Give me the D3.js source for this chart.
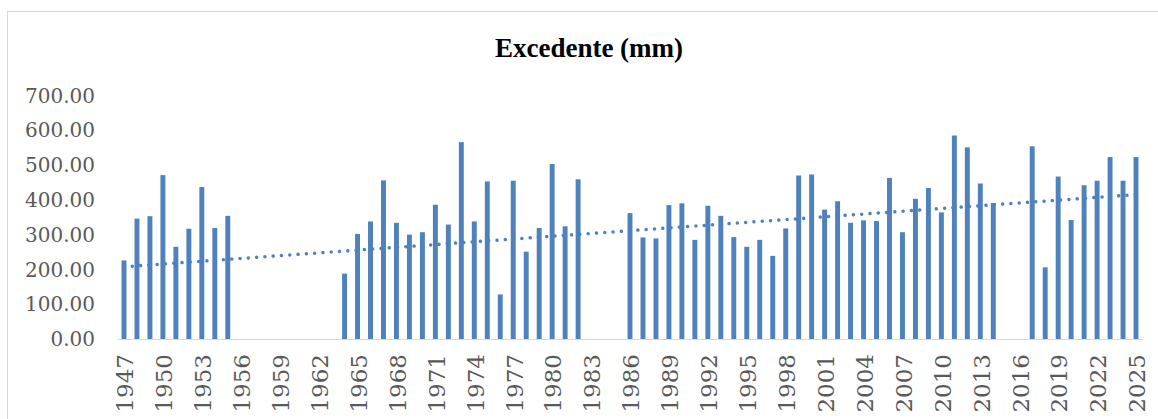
<!DOCTYPE html>
<html>
<head>
<meta charset="utf-8">
<script src="https://cdn.jsdelivr.net/npm/d3@7"></script>
<style>
  body { margin: 0; background: #fff; }
  svg { display: block; }
</style>
</head>
<body>
<div id="chart"></div>
<script>
// years with a value (gaps: 1956-1963, 1983-1985, 2015-2016)
var years = []
for (var y = 1947; y <= 2025; y++) years.push(y)

var dataYears = [1947,1948,1949,1950,1951,1952,1953,1954,1955,
  1964,1965,1966,1967,1968,1969,1970,1971,1972,1973,1974,1975,1976,1977,1978,1979,1980,1981,1982,
  1986,1987,1988,1989,1990,1991,1992,1993,1994,1995,1996,1997,1998,1999,2000,2001,2002,2003,2004,
  2005,2006,2007,2008,2009,2010,2011,2012,2013,2014,
  2017,2018,2019,2020,2021,2022,2023,2024,2025]

var excedente = [226,346,353,471,265,317,437,319,354,
  188,302,338,456,334,300,307,386,329,566,338,453,128,455,251,319,503,324,459,
  362,292,289,385,390,285,383,354,293,265,285,239,318,470,473,372,396,334,341,
  339,463,307,403,434,364,585,551,447,391,
  554,206,467,342,442,455,523,455,523]

var yTicks = [0,100,200,300,400,500,600,700]
var xTickYears = years.filter(function(d){ return (d - 1947) % 3 === 0 })

var svgWdth = 1158, svgHt = 419
var blue = '#4f81bd'

var svg = d3.select('#chart').append('svg')
  .attr('width', svgWdth)
  .attr('height', svgHt)

// chart area border
svg.append('rect')
  .attr('x', 7.5).attr('y', 11.5)
  .attr('width', 1200).attr('height', 500)
  .attr('fill', 'none')
  .attr('stroke', '#d9d9d9')

svg.append('text')
  .attr('x', 589).attr('y', 57)
  .attr('text-anchor', 'middle')
  .attr('font-family', 'Liberation Serif')
  .attr('font-weight', 'bold')
  .attr('font-size', 27)
  .attr('fill', '#000')
  .text('Excedente (mm)')

var x = d3.scaleBand().domain(years).range([117.5, 1142.5]).paddingInner(0.62).paddingOuter(0.31)
var yScale = d3.scaleLinear().domain([0, 700]).range([339, 95.5])

// y labels
svg.append('g').selectAll('text').data(yTicks).enter().append('text')
  .attr('x', 95)
  .attr('y', function(d){ return yScale(d) })
  .attr('dy', '0.36em')
  .attr('text-anchor', 'end')
  .attr('font-family', 'DejaVu Serif')
  .attr('font-size', 20)
  .attr('fill', '#595959')
  .text(function(d){ return d.toFixed(2) })

// bars
var pts = dataYears.map(function(d, i){ return {year: d, v: excedente[i]} })
svg.append('g').selectAll('rect').data(pts).enter().append('rect')
  .attr('x', function(d){ return x(d.year) })
  .attr('width', x.bandwidth())
  .attr('y', function(d){ return yScale(d.v) })
  .attr('height', function(d){ return yScale(0) - yScale(d.v) })
  .attr('fill', blue)

// baseline
svg.append('line')
  .attr('x1', 117.5).attr('x2', 1143)
  .attr('y1', yScale(0) + 0.5).attr('y2', yScale(0) + 0.5)
  .attr('stroke', '#d9d9d9')

// x labels
var mid = function(yr){ return x(yr) + x.bandwidth() / 2 }
svg.append('g').selectAll('text').data(xTickYears).enter().append('text')
  .attr('transform', function(d){ return 'translate(' + (mid(d) + 1) + ',354)rotate(-90)' })
  .attr('dy', '0.36em')
  .attr('text-anchor', 'end')
  .attr('font-family', 'DejaVu Serif')
  .attr('font-size', 23)
  .attr('fill', '#595959')
  .text(function(d){ return d })

// linear trend like the spreadsheet: every category counts, empty years as 0
var lookup = {}
pts.forEach(function(d){ lookup[d.year] = d.v })
var all = years.map(function(yr){ return {year: yr, v: lookup[yr] || 0} })
var mx = d3.mean(all, function(d){ return d.year })
var my = d3.mean(all, function(d){ return d.v })
var sxy = d3.sum(all, function(d){ return (d.year - mx) * (d.v - my) })
var sxx = d3.sum(all, function(d){ return (d.year - mx) * (d.year - mx) })
var slope = sxy / sxx
var icpt = my - slope * mx
var trend = [1947, 2025].map(function(yr){ return [mid(yr), yScale(icpt + slope * yr)] })

svg.append('path')
  .attr('d', d3.line()(trend))
  .attr('fill', 'none')
  .attr('stroke', blue)
  .attr('stroke-width', 3.5)
  .attr('stroke-linecap', 'round')
  .attr('stroke-dasharray', '0.01 8.3')
</script>
</body>
</html>
